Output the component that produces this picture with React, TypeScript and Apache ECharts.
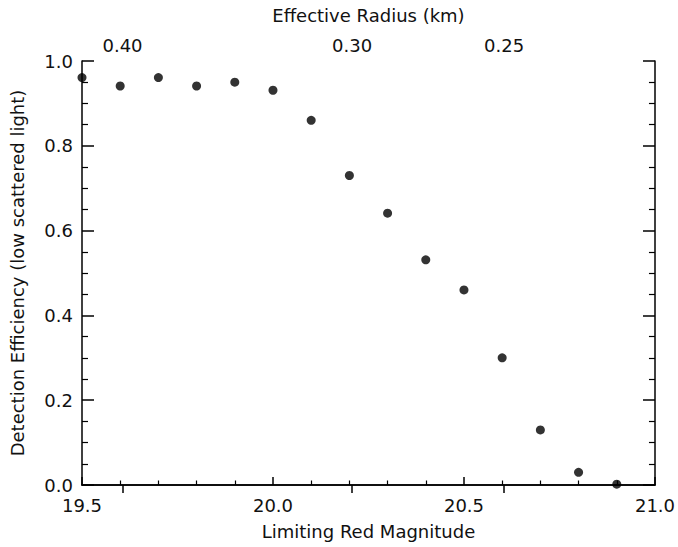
import React, { useEffect, useRef } from "react";
import * as echarts from "echarts";

const magnitudes = [19.5, 19.6, 19.7, 19.8, 19.9, 20.0, 20.1, 20.2, 20.3, 20.4, 20.5, 20.6, 20.7, 20.8, 20.9];
const efficiency = [0.961, 0.941, 0.961, 0.941, 0.95, 0.931, 0.86, 0.73, 0.641, 0.531, 0.46, 0.3, 0.13, 0.03, 0.002];
const topTickMagnitudes = [19.606, 20.207, 20.605];
const topTickLabels = ["0.40", "0.30", "0.25"];

const FONT = "DejaVu Sans";

export default function App() {
  const ref = useRef<HTMLDivElement>(null);
  useEffect(() => {
    if (!ref.current) return;
    const chart = echarts.init(ref.current, null, { renderer: "svg" });
    const textStyle = { fontFamily: FONT, fontSize: 18, color: "#111" };
    const axisLine = { show: true, lineStyle: { color: "#000", width: 1.5 } };
    chart.setOption({
      animation: false,
      backgroundColor: "#fff",
      grid: { left: 81, right: 23, top: 61, bottom: 62, containLabel: false },
      xAxis: [
        {
          type: "value",
          position: "bottom",
          min: 19.5,
          max: 21.0,
          interval: 0.5,
          name: "Limiting Red Magnitude",
          nameLocation: "middle",
          nameGap: 37,
          nameTextStyle: textStyle,
          axisLine,
          axisTick: { show: true, inside: true, length: 8, lineStyle: { color: "#000", width: 1.5 } },
          minorTick: { show: true, splitNumber: 5, length: 4.5, lineStyle: { color: "#000", width: 1.2 } },
          splitLine: { show: false },
          axisLabel: { ...textStyle, margin: 11, formatter: (v: number) => v.toFixed(1) },
        },
        {
          type: "value",
          position: "top",
          min: 19.5,
          max: 21.0,
          name: "Effective Radius (km)",
          nameLocation: "middle",
          nameGap: 37,
          nameTextStyle: textStyle,
          axisLine,
          axisTick: {
            show: true,
            inside: true,
            length: 8,
            customValues: topTickMagnitudes,
            lineStyle: { color: "#000", width: 1.5 },
          },
          splitLine: { show: false },
          axisLabel: {
            ...textStyle,
            margin: 7,
            customValues: topTickMagnitudes,
            formatter: (v: number) => {
              const i = topTickMagnitudes.findIndex((m) => Math.abs(m - v) < 1e-6);
              return i >= 0 ? topTickLabels[i] : "";
            },
          },
        },
      ],
      yAxis: [
        {
          type: "value",
          position: "left",
          min: 0,
          max: 1,
          interval: 0.2,
          name: "Detection Efficiency (low scattered light)",
          nameLocation: "middle",
          nameGap: 56,
          nameTextStyle: textStyle,
          axisLine,
          axisTick: { show: true, inside: true, length: 12, lineStyle: { color: "#000", width: 1.5 } },
          minorTick: { show: true, splitNumber: 4, length: 6, lineStyle: { color: "#000", width: 1.2 } },
          splitLine: { show: false },
          axisLabel: { ...textStyle, margin: 9, formatter: (v: number) => v.toFixed(1) },
        },
        {
          type: "value",
          position: "right",
          min: 0,
          max: 1,
          interval: 0.2,
          axisLine,
          axisTick: { show: true, inside: true, length: 12, lineStyle: { color: "#000", width: 1.5 } },
          minorTick: { show: true, splitNumber: 4, length: 6, lineStyle: { color: "#000", width: 1.2 } },
          splitLine: { show: false },
          axisLabel: { show: false },
        },
      ],
      series: [
        {
          type: "scatter",
          xAxisIndex: 0,
          yAxisIndex: 0,
          symbol: "circle",
          symbolSize: 9,
          itemStyle: { color: "#000" },
          data: magnitudes.map((m, i) => [m, efficiency[i]]),
          clip: false,
        },
      ],
    });
    return () => chart.dispose();
  }, []);
  return (
    <div
      ref={ref}
      style={{ position: "absolute", left: 0, top: 0, width: 678, height: 547 }}
    />
  );
}
